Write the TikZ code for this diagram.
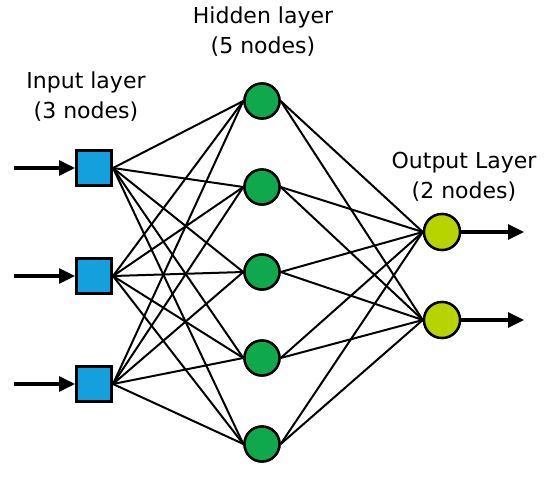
\documentclass[tikz,border=0pt]{standalone}
\usepackage{fontspec}
\setmainfont{DejaVu Sans}
\usetikzlibrary{arrows.meta}
\definecolor{inblue}{RGB}{20,160,220}
\definecolor{hidgreen}{RGB}{16,168,76}
\definecolor{outlime}{RGB}{184,212,0}
\begin{document}
\begin{tikzpicture}[x=1pt,y=-1pt,
  inbox/.style={draw=black,line width=3pt,fill=inblue,minimum size=35pt,inner sep=0pt},
  hidnode/.style={circle,draw=black,line width=2.4pt,fill=hidgreen,minimum size=35pt,inner sep=0pt},
  outnode/.style={circle,draw=black,line width=2.4pt,fill=outlime,minimum size=36pt,inner sep=0pt},
  edge/.style={line width=2pt},
  ioarrow/.style={line width=3.2pt,-{Triangle[length=16pt,width=15pt]}},
  lbl/.style={font=\fontsize{22}{30}\selectfont,align=center}]
\useasboundingbox (0,0) rectangle (550,483);
\fill[white] (0,0) rectangle (550,483);
% labels
\node[lbl] (lin) at (86,97) {Input layer\\(3 nodes)};
\node[lbl] (lhid) at (263,32) {Hidden layer\\(5 nodes)};
\node[lbl] (lout) at (464,177) {Output Layer\\(2 nodes)};
% coordinates for arrows
\coordinate (s1) at (14,168);
\coordinate (s2) at (14,276);
\coordinate (s3) at (14,384);
\coordinate (e1) at (524,232);
\coordinate (e2) at (524,320);
\foreach \i/\y in {1/168,2/276,3/384} \coordinate (ic\i) at (94,\y);
\foreach \j/\y in {1/101,2/187,3/272,4/358,5/444} \coordinate (hc\j) at (262,\y);
\foreach \k/\y in {1/232,2/320} \coordinate (oc\k) at (442,\y);
% nodes (for anchors)
\foreach \i in {1,2,3} \node[inbox] (in\i) at (ic\i) {};
\foreach \j in {1,...,5} \node[hidnode] (h\j) at (hc\j) {};
\foreach \k in {1,2} \node[outnode] (o\k) at (oc\k) {};
% edges
\foreach \i in {1,2,3} \foreach \j in {1,...,5} \draw[edge] (in\i.east) -- (h\j.west);
\foreach \j in {1,...,5} \foreach \k in {1,2} \draw[edge] (h\j.east) -- (o\k.west);
% redraw nodes on top of edges
\foreach \i in {1,2,3} \node[inbox] at (ic\i) {};
\foreach \j in {1,...,5} \node[hidnode] at (hc\j) {};
\foreach \k in {1,2} \node[outnode] at (oc\k) {};
% io arrows
\foreach \i in {1,2,3} \draw[ioarrow] (s\i) -- (in\i.west);
\foreach \k in {1,2} \draw[ioarrow] (o\k.east) -- (e\k);
\end{tikzpicture}
\end{document}
